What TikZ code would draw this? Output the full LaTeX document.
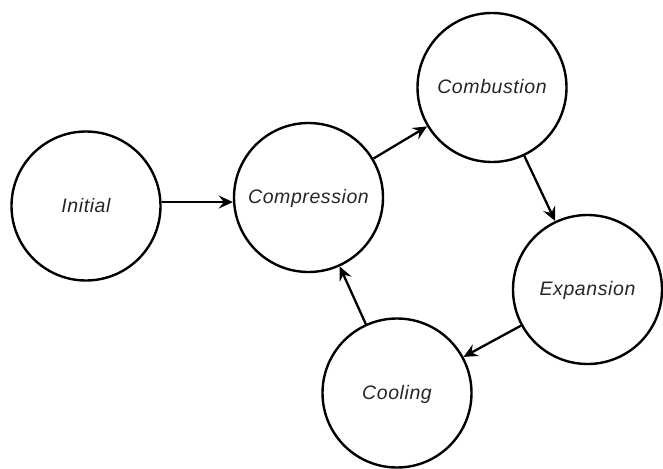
\documentclass[tikz,border=0pt]{standalone}
\usepackage{fontspec}
\setmainfont{Liberation Sans}
\newfontfamily\labelfont[LetterSpace=3]{Liberation Sans}
\usetikzlibrary{arrows.meta}
\begin{document}
\begin{tikzpicture}[x=1pt,y=-1pt,
  state/.style={circle,draw=black,line width=2.4pt,minimum size=149pt,inner sep=0pt,
    text height=12pt,text depth=0pt,
    font=\labelfont\itshape\fontsize{19.5}{23}\selectfont,text=black!85},
  arr/.style={line width=2.3pt,-{Stealth[length=14pt,width=13pt,inset=5pt]}}]
\useasboundingbox[fill=white] (0,0) rectangle (663,468);
\node[state] (Initial) at (86,206) {Initial};
\node[state] (Compression) at (308.5,197.5) {Compression};
\node[state] (Combustion) at (492,87.5) {Combustion};
\node[state] (Expansion) at (587.5,289.5) {Expansion};
\node[state] (Cooling) at (397,393) {Cooling};
\draw[arr] (Initial.3) -- (Initial.3 -| Compression.west);
\draw[arr] (Compression) -- (Combustion);
\draw[arr] (Combustion) -- (Expansion);
\draw[arr] (Expansion) -- (Cooling);
\draw[arr] (Cooling) -- (Compression);
\end{tikzpicture}
\end{document}
